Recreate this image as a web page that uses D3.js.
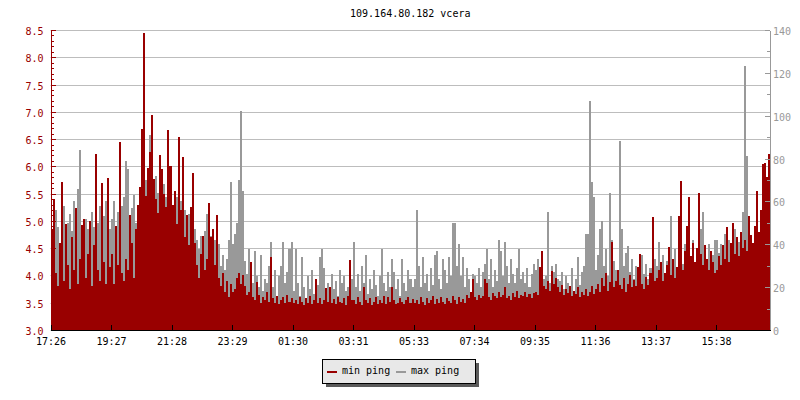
<!DOCTYPE html>
<html><head><meta charset="utf-8">
<script src="https://cdn.jsdelivr.net/npm/d3@7"></script>
<style>
html,body{margin:0;padding:0;background:#fff}
svg{display:block}
text{font-family:"DejaVu Sans Mono",monospace;font-size:10px}
</style>
</head><body>
<svg id="c" width="800" height="400"></svg>
<script>
const title = "109.164.80.182 vcera";
const timeLabels = ["17:26","19:27","21:28","23:29","01:30","03:31","05:33","07:34","09:35","11:36","13:37","15:38"];
const labelEvery = 30; // samples between time labels
const seriesNames = ["min ping", "max ping"];
const leftTicks = [3.0,3.5,4.0,4.5,5.0,5.5,6.0,6.5,7.0,7.5,8.0,8.5];
const rightTicks = [0,20,40,60,80,100,120,140];

// min ping (left axis)
const minPing = [
4.85,5.40,4.05,3.80,4.60,5.71,3.90,4.95,4.20,3.75,4.70,4.10,5.24,3.85,4.30,4.92,5.03,3.95,4.40,5.00,3.80,4.55,6.23,4.10,3.90,5.69,4.25,3.85,5.78,4.15,
4.40,3.85,4.90,4.20,6.45,4.05,3.90,4.30,4.10,5.10,4.60,3.95,4.85,5.30,5.62,6.68,8.45,5.45,5.97,6.26,6.94,5.77,5.40,5.15,6.20,5.95,5.50,5.25,6.67,6.00,
5.30,5.55,4.95,6.54,5.20,6.17,4.70,5.10,4.55,5.25,5.88,4.60,4.20,3.95,4.40,4.72,4.10,4.30,5.33,4.70,4.85,4.20,5.10,3.95,3.80,4.05,3.70,3.90,3.60,3.85,
3.70,3.75,3.95,4.05,3.85,4.00,3.80,3.65,3.70,4.25,3.60,3.55,3.88,3.65,3.50,3.60,3.55,3.70,3.52,4.33,3.58,3.50,3.62,3.48,3.55,3.60,3.50,3.65,3.52,3.58,
3.50,3.55,3.48,3.60,3.52,3.45,3.58,3.50,3.62,3.48,3.55,3.93,3.50,3.58,3.47,3.55,3.77,3.52,3.79,3.50,3.56,3.48,3.60,3.52,3.50,3.58,3.46,3.62,4.28,3.55,
3.55,3.48,3.60,3.52,3.46,3.79,3.55,3.50,3.58,3.45,3.52,3.60,3.48,3.55,3.50,3.62,3.47,3.60,3.52,3.79,3.55,3.48,3.50,3.58,3.52,3.47,3.55,3.60,3.50,3.56,
3.50,3.55,3.48,3.60,3.52,3.46,3.58,3.50,3.55,3.62,3.48,3.56,3.50,3.60,3.52,3.47,3.58,3.53,3.50,3.62,3.55,3.48,3.60,3.52,3.57,3.50,3.65,3.58,3.70,3.93,
3.60,3.55,3.65,3.58,3.62,3.94,3.86,3.60,3.55,3.68,3.62,3.58,3.70,3.60,3.65,3.79,3.58,3.62,3.55,3.68,3.60,3.72,3.58,3.65,3.62,3.70,3.60,3.66,3.58,3.68,
3.70,3.65,4.16,4.44,3.80,3.75,3.90,3.72,4.08,3.85,3.95,3.78,3.70,3.82,3.65,3.75,3.68,3.80,3.62,3.72,3.66,3.78,3.60,3.70,3.65,3.75,3.62,3.70,3.80,3.66,
3.75,3.85,3.70,3.95,3.80,4.05,3.72,3.88,4.62,3.78,3.90,4.10,3.82,3.75,3.95,3.70,3.85,4.00,3.78,3.92,3.80,4.15,4.40,3.85,3.75,3.98,3.82,4.05,5.08,3.90,
3.95,4.10,4.25,3.90,4.05,4.20,4.53,4.00,4.30,3.95,4.15,5.09,5.74,4.10,4.45,4.90,5.44,4.35,4.60,4.25,4.50,5.51,4.40,4.20,4.55,4.30,4.10,4.45,4.25,4.05,
4.10,4.35,4.20,4.55,4.30,4.89,4.25,4.60,4.97,4.40,4.70,4.35,4.80,4.50,4.65,4.45,5.09,4.75,4.60,4.90,5.55,4.80,5.20,6.04,6.06,5.81,6.23
];

// max ping (right axis)
const maxPing = [
38,44,56,48,40,36,58,42,50,54,46,60,40,66,84,38,44,52,47,40,55,48,36,50,58,41,53,60,40,47,
52,60,45,55,42,58,62,79,75,48,57,63,50,56,48,60,54,70,62,91,58,66,72,64,56,60,68,62,55,58,
58,50,62,55,60,52,56,48,54,45,50,47,42,38,44,36,46,54,40,44,38,42,36,40,30,35,28,33,42,69,
40,45,50,70,102,65,32,26,38,28,22,37,25,20,35,18,24,22,30,41,20,28,16,25,30,41,22,27,38,41,
18,38,22,16,34,20,15,25,19,28,17,24,21,34,38,29,18,22,15,26,19,23,16,28,22,25,18,20,30,24,
41,20,26,18,30,22,35,17,24,19,28,21,16,25,38,22,18,27,20,33,27,19,24,16,33,22,18,28,24,20,
24,56,30,20,34,22,26,18,29,21,35,37,24,19,33,28,22,34,25,50,50,30,40,25,34,20,29,24,17,26,
25,22,29,20,27,31,38,24,33,20,28,23,42,37,25,41,30,22,33,26,22,29,38,24,27,22,29,20,26,31,
28,33,26,30,24,25,55,22,30,27,31,24,23,27,19,25,22,20,29,18,24,34,21,27,30,45,45,107,69,62,
28,35,47,51,30,38,25,64,42,32,28,24,88,47,30,36,39,27,33,24,30,22,28,35,26,31,24,29,51,33,
30,41,28,35,25,32,36,53,30,38,27,34,48,31,40,36,40,33,42,30,37,35,47,55,38,32,40,29,35,42,
42,36,40,33,45,38,42,35,44,47,38,41,36,55,123,81,40,44,38,46,35,42,39,44,37,40,34
];

const RED = "#990000", GRAY = "#999999", GRID = "#bdbdbd";
const L = 50.5, R = 770, T = 30, B = 330;
const N = minPing.length;

const svg = d3.select("#c");
const x = d3.scaleLinear().domain([0, N]).range([L, R + 0.5]);
const yL = d3.scaleLinear().domain([3, 8.5]).range([B, T]);
const yR = d3.scaleLinear().domain([0, 140]).range([B, T]);

// title
svg.append("text").attr("x", (L + R) / 2).attr("y", 17).attr("text-anchor", "middle")
  .attr("fill", "#000").text(title);

// grid
svg.append("g").selectAll("line").data(leftTicks).join("line")
  .attr("x1", L).attr("x2", R)
  .attr("y1", d => Math.round(yL(d)) + 0.5).attr("y2", d => Math.round(yL(d)) + 0.5)
  .attr("stroke", GRID).attr("stroke-width", 1);

// max ping bars (behind)
const idx = d3.range(N);
svg.append("g").attr("shape-rendering", "crispEdges").selectAll("rect").data(idx).join("rect")
  .attr("x", i => x(i)).attr("width", i => x(i + 1) - x(i))
  .attr("y", i => yR(maxPing[i])).attr("height", i => B - yR(maxPing[i]))
  .attr("fill", GRAY);

// min ping bars (front)
svg.append("g").attr("shape-rendering", "crispEdges").selectAll("rect").data(idx).join("rect")
  .attr("x", i => x(i)).attr("width", i => x(i + 1) - x(i))
  .attr("y", i => yL(minPing[i])).attr("height", i => B - yL(minPing[i]))
  .attr("fill", RED);

function styleAxis(g, color, textColor) {
  g.attr("font-family", "DejaVu Sans Mono, monospace").attr("font-size", 10);
  g.select(".domain").attr("stroke", color).attr("shape-rendering", "crispEdges");
  g.selectAll(".tick line").attr("stroke", color).attr("shape-rendering", "crispEdges");
  g.selectAll(".tick text").attr("fill", textColor);
}

// left axis minor
svg.append("g").attr("transform", `translate(${L},0)`)
  .call(d3.axisLeft(yL).tickValues(d3.range(30, 86).map(v => v / 10)).tickSize(-3).tickSizeOuter(0).tickFormat(""))
  .call(g => styleAxis(g, RED, RED));
// left axis major
svg.append("g").attr("transform", `translate(${L},0)`)
  .call(d3.axisLeft(yL).tickValues(leftTicks).tickSize(-5).tickSizeOuter(0).tickPadding(7).tickFormat(d3.format(".1f")))
  .call(g => styleAxis(g, RED, RED))
  .call(g => g.selectAll(".tick text").attr("dy", "0.45em"));

// right axis minor
svg.append("g").attr("transform", `translate(${R},0)`)
  .call(d3.axisRight(yR).tickValues(d3.range(0, 141, 10)).tickSize(-3).tickSizeOuter(0).tickFormat(""))
  .call(g => styleAxis(g, GRAY, GRAY));
// right axis major
svg.append("g").attr("transform", `translate(${R},0)`)
  .call(d3.axisRight(yR).tickValues(rightTicks).tickSize(-5).tickSizeOuter(0).tickPadding(3))
  .call(g => styleAxis(g, GRAY, GRAY))
  .call(g => g.selectAll(".tick text").attr("dy", "0.45em"));

// bottom axis
svg.append("g").attr("transform", `translate(0,${B})`)
  .call(d3.axisBottom(x).tickValues(timeLabels.map((_, k) => k * labelEvery))
    .tickFormat((d, k) => timeLabels[k]).tickSize(-5).tickSizeOuter(0).tickPadding(8))
  .call(g => styleAxis(g, "#000", "#000"));

// legend
const lg = svg.append("g").attr("shape-rendering", "crispEdges");
lg.append("rect").attr("x", 326).attr("y", 363).attr("width", 153).attr("height", 24).attr("fill", "#5a5a5a");
lg.append("rect").attr("x", 322.5).attr("y", 359.5).attr("width", 153).attr("height", 24)
  .attr("fill", "#e8e8e8").attr("stroke", "#000").attr("stroke-width", 1);
const legendItems = [{name: seriesNames[0], color: RED, x: 327}, {name: seriesNames[1], color: GRAY, x: 396}];
legendItems.forEach(it => {
  lg.append("rect").attr("x", it.x).attr("y", 371).attr("width", 10).attr("height", 2).attr("fill", it.color);
  lg.append("text").attr("x", it.x + 15).attr("y", 374).attr("fill", "#000").text(it.name);
});
</script>
</body></html>
